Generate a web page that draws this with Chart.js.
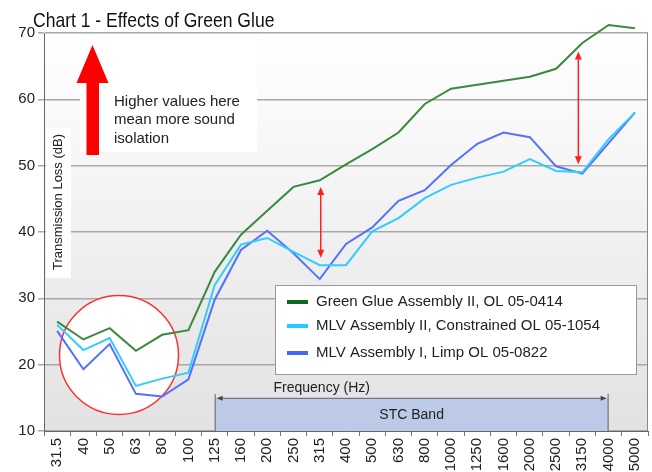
<!DOCTYPE html>
<html>
<head>
<meta charset="utf-8">
<script src="https://cdn.jsdelivr.net/npm/chart.js@4.4.1/dist/chart.umd.min.js"></script>
<style>
  html, body { margin: 0; padding: 0; background: #fff; }
  #wrap { width: 652px; height: 472px; }
</style>
</head>
<body>
<div id="wrap"><canvas id="tlChart" width="652" height="472"></canvas></div>
<script>
// ----------- Data ----------------- //
const frequencies = ["31.5", "40", "50", "63", "80", "100", "125", "160", "200", "250", "315", "400",
    "500", "630", "800", "1000", "1250", "1600", "2000", "2500", "3150", "4000", "5000"];
const greenGlue = [26.5, 23.8, 25.5, 22.1, 24.5, 25.2, 34.0, 39.6, 43.2, 46.8, 47.8, 50.2,
    52.5, 55.0, 59.3, 61.6, 62.2, 62.8, 63.4, 64.6, 68.5, 71.2, 70.7];
const mlvConstrained = [26.0, 22.2, 24.0, 16.8, 17.9, 18.8, 32.0, 38.1, 39.1, 37.0, 35.0, 35.0,
    40.1, 42.1, 45.1, 47.1, 48.2, 49.1, 51.0, 49.2, 49.0, 54.0, 58.0];
const mlvLimp = [25.1, 19.3, 23.1, 15.6, 15.2, 17.8, 29.8, 37.3, 40.2, 36.8, 32.9, 38.2,
    40.7, 44.7, 46.3, 50.1, 53.3, 55.0, 54.3, 49.9, 48.8, 53.4, 58.0];
const seriesNames = ["Green Glue Assembly II, OL 05-0414",
    "MLV Assembly II, Constrained OL 05-1054",
    "MLV Assembly I, Limp OL 05-0822"];
const yMin = 10, yMax = 70, yStep = 10;

const FONT = "'Liberation Sans', Arial, sans-serif";

// ----------- Drawing helpers ----------------- //
function arrowHead(ctx, x, y, dir, len, half) {
    // dir: 1 = pointing down, -1 = pointing up
    ctx.beginPath();
    ctx.moveTo(x, y);
    ctx.lineTo(x - half, y - dir * len);
    ctx.lineTo(x + half, y - dir * len);
    ctx.closePath();
    ctx.fill();
}

function redDoubleArrow(ctx, x, yTop, yBottom) {
    ctx.save();
    ctx.strokeStyle = '#ff2020';
    ctx.fillStyle = '#ff2020';
    ctx.lineWidth = 1.5;
    ctx.beginPath();
    ctx.moveTo(x, yTop + 5);
    ctx.lineTo(x, yBottom - 5);
    ctx.stroke();
    arrowHead(ctx, x, yTop, -1, 8, 3.5);
    arrowHead(ctx, x, yBottom, 1, 8, 3.5);
    ctx.restore();
}

const decorations = {
    id: 'decorations',
    beforeDraw(chart) {
        const {ctx, chartArea: a} = chart;
        ctx.save();
        const g = ctx.createLinearGradient(0, a.top, 0, a.bottom);
        g.addColorStop(0, '#ffffff');
        g.addColorStop(1, '#e2e2e2');
        ctx.fillStyle = g;
        ctx.fillRect(a.left, a.top, a.right - a.left, a.bottom - a.top);

        // title, squeezed to look like a narrow face
        ctx.save();
        ctx.translate(33, 27);
        ctx.scale(0.835, 1);
        ctx.fillStyle = '#111';
        ctx.font = '21px ' + FONT;
        ctx.textAlign = 'left';
        ctx.textBaseline = 'alphabetic';
        ctx.fillText('Chart 1 - Effects of Green Glue', 0, 0);
        ctx.restore();
        ctx.restore();
    },
    beforeDatasetsDraw(chart) {
        const {ctx, chartArea: a, scales: {x, y}} = chart;
        ctx.save();

        // y axis title with its white box
        ctx.fillStyle = '#ffffff';
        ctx.fillRect(a.left + 2, 128, 25, 150);
        ctx.save();
        ctx.translate(58, 202);
        ctx.rotate(-Math.PI / 2);
        ctx.fillStyle = '#222';
        ctx.font = '13px ' + FONT;
        ctx.textAlign = 'center';
        ctx.textBaseline = 'middle';
        ctx.fillText('Transmission Loss (dB)', 0, 0);
        ctx.restore();

        // white box behind "higher values" note
        ctx.fillStyle = '#ffffff';
        ctx.fillRect(80, 38, 177, 114);

        // red circle round the low frequencies
        ctx.beginPath();
        ctx.arc(119, 355, 59.5, 0, Math.PI * 2);
        ctx.fillStyle = '#ffffff';
        ctx.fill();
        ctx.strokeStyle = '#ff3030';
        ctx.lineWidth = 1.5;
        ctx.stroke();

        // STC band
        const x1 = x.getPixelForValue(6);
        const x2 = x.getPixelForValue(21);
        const yb = y.getPixelForValue(15);
        ctx.fillStyle = '#bccae8';
        ctx.fillRect(x1, yb, x2 - x1, a.bottom - yb);
        ctx.strokeStyle = '#666';
        ctx.lineWidth = 1;
        ctx.beginPath();
        ctx.moveTo(x1 + 0.5, yb - 4); ctx.lineTo(x1 + 0.5, a.bottom);
        ctx.moveTo(x2 - 0.5, yb - 4); ctx.lineTo(x2 - 0.5, a.bottom);
        ctx.moveTo(x1 + 4, yb + 0.5); ctx.lineTo(x2 - 4, yb + 0.5);
        ctx.stroke();
        ctx.fillStyle = '#444';
        ctx.beginPath();
        ctx.moveTo(x1 + 2, yb + 0.5); ctx.lineTo(x1 + 8, yb - 2); ctx.lineTo(x1 + 8, yb + 3);
        ctx.closePath(); ctx.fill();
        ctx.beginPath();
        ctx.moveTo(x2 - 2, yb + 0.5); ctx.lineTo(x2 - 8, yb - 2); ctx.lineTo(x2 - 8, yb + 3);
        ctx.closePath(); ctx.fill();

        ctx.fillStyle = '#222';
        ctx.font = '14px ' + FONT;
        ctx.textAlign = 'center';
        ctx.textBaseline = 'middle';
        ctx.fillText('STC Band', (x1 + x2) / 2, (yb + a.bottom) / 2 + 1);
        ctx.fillText('Frequency (Hz)', x.getPixelForValue(10) + 2, y.getPixelForValue(16.5));
        ctx.restore();
    },
    afterDatasetsDraw(chart) {
        const {ctx, chartArea: a, scales: {x, y}} = chart;
        ctx.save();

        // right frame line
        ctx.strokeStyle = '#888';
        ctx.lineWidth = 1;
        ctx.beginPath();
        ctx.moveTo(a.right - 0.5, a.top);
        ctx.lineTo(a.right - 0.5, a.bottom);
        ctx.stroke();

        // big red arrow
        ctx.fillStyle = '#ff0000';
        ctx.beginPath();
        ctx.moveTo(92.5, 45);
        ctx.lineTo(108.5, 83);
        ctx.lineTo(99, 83);
        ctx.lineTo(99, 155);
        ctx.lineTo(86.5, 155);
        ctx.lineTo(86.5, 83);
        ctx.lineTo(76.5, 83);
        ctx.closePath();
        ctx.fill();

        ctx.fillStyle = '#222';
        ctx.font = '15px ' + FONT;
        ctx.textAlign = 'left';
        ctx.textBaseline = 'middle';
        ['Higher values here', 'mean more sound', 'isolation'].forEach((t, i) => {
            ctx.fillText(t, 114, 102 + i * 18.3);
        });

        // red difference arrows
        redDoubleArrow(ctx, x.getPixelForValue(10) + 1, y.getPixelForValue(46.8), y.getPixelForValue(36.1));
        redDoubleArrow(ctx, x.getPixelForValue(20) - 4, y.getPixelForValue(67.2), y.getPixelForValue(50.2));

        // legend box
        ctx.fillStyle = '#ffffff';
        ctx.fillRect(275, 285, 362, 90);
        ctx.strokeStyle = '#999';
        ctx.lineWidth = 1;
        ctx.strokeRect(275.5, 285.5, 361, 89);
        const rows = [302, 326, 353];
        chart.data.datasets.forEach((ds, i) => {
            ctx.strokeStyle = ds.legendColor;
            ctx.lineWidth = 4;
            ctx.beginPath();
            ctx.moveTo(287, rows[i]);
            ctx.lineTo(308, rows[i]);
            ctx.stroke();
            ctx.fillStyle = '#222';
            ctx.font = '15px ' + FONT;
            ctx.textAlign = 'left';
            ctx.textBaseline = 'middle';
            ctx.fillText(ds.label, 316, rows[i]);
        });
        ctx.restore();
    }
};

// ----------- Chart ----------------- //
const tlChart = document.getElementById('tlChart');

new Chart(tlChart, {
    type: 'line',
    data: {
        labels: frequencies,
        datasets: [
            { label: seriesNames[0], data: greenGlue, borderColor: '#3a8a3e', legendColor: '#0a6a1e', clip: 12 },
            { label: seriesNames[1], data: mlvConstrained, borderColor: '#33ccff', legendColor: '#22ccff', clip: 12 },
            { label: seriesNames[2], data: mlvLimp, borderColor: '#5470ff', legendColor: '#4466ff', clip: 12 }
        ]
    },
    options: {
        responsive: false,
        animation: false,
        layout: { padding: { top: 33, right: 4, left: 0, bottom: 0 } },
        elements: {
            line: { borderWidth: 2, tension: 0 },
            point: { radius: 0 }
        },
        plugins: {
            legend: { display: false },
            title: { display: false },
            tooltip: { enabled: false }
        },
        scales: {
            x: {
                type: 'category',
                offset: true,
                grid: { drawOnChartArea: false, drawTicks: true, tickLength: 5, color: '#777', offset: true },
                border: { color: '#666', width: 1 },
                ticks: {
                    minRotation: 90, maxRotation: 90, autoSkip: false, padding: 2,
                    color: '#222', font: { family: FONT, size: 15 }
                },
                afterFit(scale) {
                    scale.height = 41;
                    scale.paddingLeft = 0;
                    scale.paddingRight = 0;
                }
            },
            y: {
                min: yMin, max: yMax,
                grid: { color: '#a8a8a8', lineWidth: 1.5, tickLength: 6 },
                border: { color: '#666', width: 1 },
                ticks: {
                    stepSize: yStep, padding: 3, color: '#222',
                    font: { family: FONT, size: 15 }
                },
                afterFit(scale) {
                    scale.width = 44;
                }
            }
        }
    },
    plugins: [decorations]
});
</script>
</body>
</html>
